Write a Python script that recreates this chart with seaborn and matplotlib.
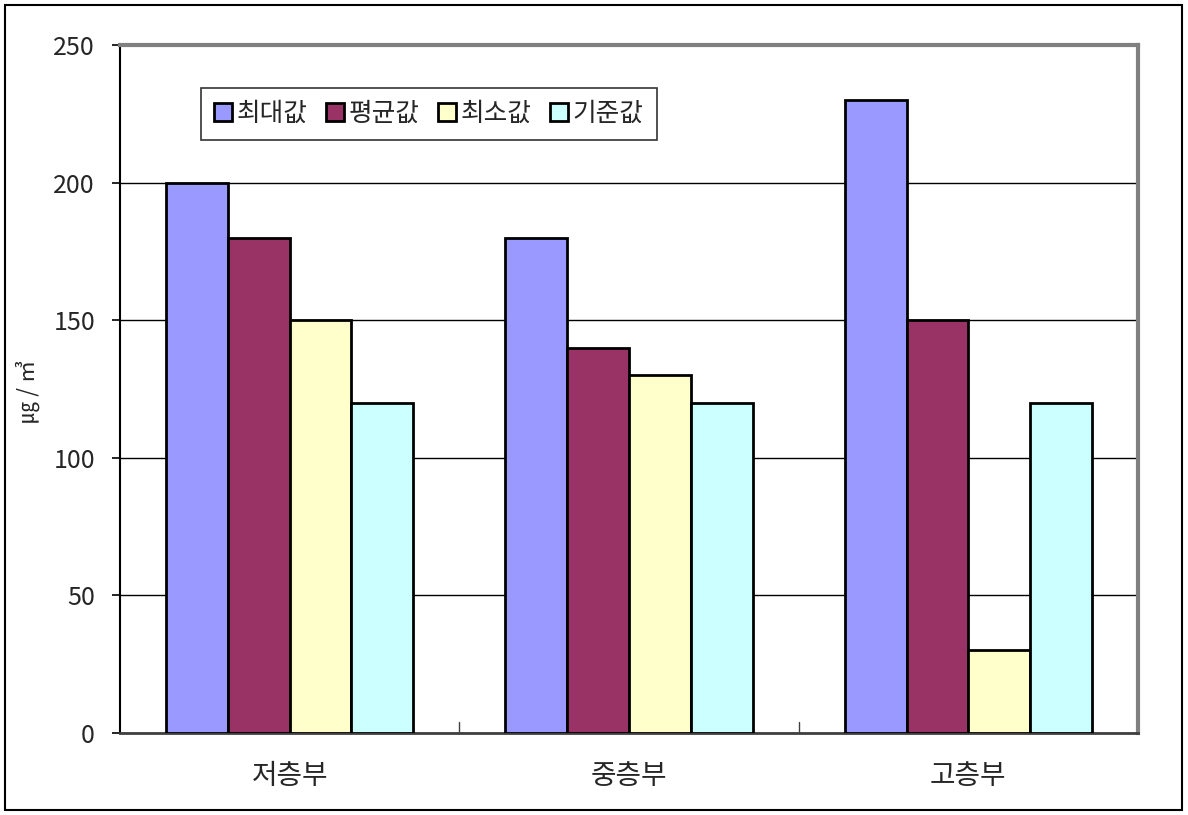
import matplotlib
matplotlib.use("Agg")
import matplotlib.pyplot as plt
import seaborn as sns
import pandas as pd
from matplotlib.patches import Rectangle

categories = ["저층부", "중층부", "고층부"]
series_names = ["최대값", "평균값", "최소값", "기준값"]
max_vals = [200, 180, 230]
mean_vals = [180, 140, 150]
min_vals = [150, 130, 30]
std_vals = [120, 120, 120]
colors = ["#9999FF", "#993366", "#FFFFCC", "#CCFFFF"]
yticks = [0, 50, 100, 150, 200, 250]

sns.set_theme(style="white")
plt.rcParams['font.family'] = ['Noto Sans CJK KR', 'DejaVu Sans']

rows = []
for name, vals in zip(series_names, [max_vals, mean_vals, min_vals, std_vals]):
    for c, v in zip(categories, vals):
        rows.append({"cat": c, "series": name, "value": v})
df = pd.DataFrame(rows)

fig = plt.figure(figsize=(11.88, 8.15), dpi=100)
ax = fig.add_axes([120/1188, 1-733/815, (1138-120)/1188, (733-45)/815])

sns.barplot(data=df, x="cat", y="value", hue="series", order=categories,
            hue_order=series_names, palette=colors, width=0.728,
            edgecolor="black", linewidth=2, saturation=1, ax=ax, zorder=3)

ax.set_xlim(-0.5, 2.5)
ax.set_ylim(0, 250)
ax.set_yticks(yticks)
ax.set_yticklabels([str(t) for t in yticks], fontsize=18)
ax.yaxis.grid(True, color="black", linewidth=1)
ax.set_axisbelow(True)
ax.tick_params(axis="y", direction="out", length=6, width=1.2, color="black", pad=12, left=True)
ax.set_xticks([0, 1, 2])
ax.set_xticklabels(categories, fontsize=20)
ax.tick_params(axis="x", length=0, pad=20)
for xb in [0.5, 1.5]:
    ax.plot([xb, xb], [0, 4], color="#404040", lw=1, zorder=4)
ax.set_xlabel("")
ax.set_ylabel("㎍ / ㎥", fontsize=16)
ax.yaxis.set_label_coords((40-120)/1018, (733-391)/688)

ax.spines["left"].set_color("black")
ax.spines["left"].set_linewidth(1.5)
ax.spines["bottom"].set_color("#404040")
ax.spines["bottom"].set_linewidth(2)
ax.spines["top"].set_color("#808080")
ax.spines["top"].set_linewidth(3)
ax.spines["right"].set_color("#808080")
ax.spines["right"].set_linewidth(3)

leg = ax.legend(loc="upper left", bbox_to_anchor=((201-120)/1018, 1-(88-45)/688),
                ncol=4, fontsize=18.5, frameon=True, fancybox=False,
                handlelength=0.7, handleheight=0.7, handletextpad=0.2,
                columnspacing=0.7, borderpad=0.5, borderaxespad=0)
leg.get_frame().set_edgecolor("black")
leg.get_frame().set_linewidth(1.2)
for h in leg.legend_handles:
    h.set_linewidth(2)
    h.set_edgecolor("black")

fig.patches.append(Rectangle((5/1188, 5/815), 1177/1188, 805/815, transform=fig.transFigure,
                             fill=False, edgecolor="black", linewidth=1.5))

fig.savefig("out.png", dpi=100)
